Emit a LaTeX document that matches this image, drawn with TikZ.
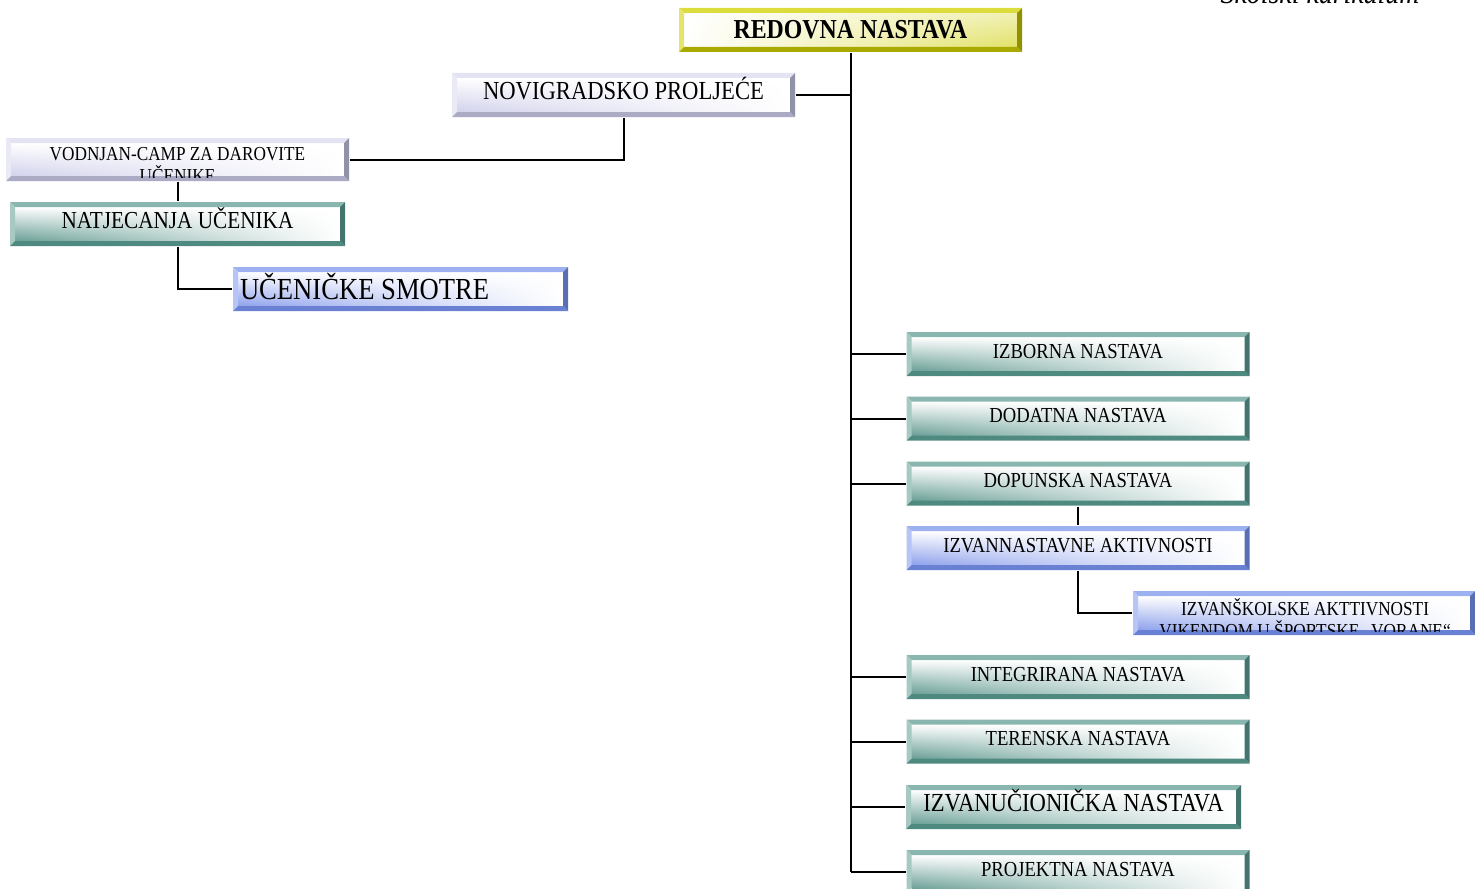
\documentclass[tikz,border=0pt]{standalone}
\usepackage{fontspec}
\setmainfont{Liberation Serif}[FakeStretch=0.87]
\usetikzlibrary{calc,shadings}

\definecolor{tealL}{HTML}{89B7B0}
\definecolor{tealD}{HTML}{4F8A81}
\definecolor{tealS}{HTML}{6A9F96}
\definecolor{lavL}{HTML}{E3E3F3}
\definecolor{lavD}{HTML}{ABABC6}
\definecolor{lavS}{HTML}{D2D2EC}
\definecolor{bluL}{HTML}{9DB1F1}
\definecolor{bluD}{HTML}{6A81D3}
\definecolor{bluS}{HTML}{8EA1EC}
\definecolor{yelL}{HTML}{DCDC3C}
\definecolor{yelD}{HTML}{A9A900}
\definecolor{yelS}{HTML}{E2E26A}

\tikzset{
	bevel/.style n args={3}{rectangle, inner sep=0pt, minimum width=171.5pt, minimum height=22pt,
		text height=7pt, text depth=3pt,
		path picture={
			\coordinate (bA) at (path picture bounding box.north west);
			\coordinate (bB) at (path picture bounding box.north east);
			\coordinate (bC) at (path picture bounding box.south east);
			\coordinate (bD) at (path picture bounding box.south west);
			\coordinate (iA) at ($(bA)+(5,5)$);
			\coordinate (iB) at ($(bB)+(-5,5)$);
			\coordinate (iC) at ($(bC)+(-5,-5)$);
			\coordinate (iD) at ($(bD)+(5,-5)$);
			\shade[#3] (iA) rectangle (iC);
			\fill[#1] (bA) -- (bB) -- (iB) -- (iA) -- cycle;
			\fill[#1!75!white] (bA) -- (iA) -- (iD) -- (bD) -- cycle;
			\fill[#2] (bD) -- (iD) -- (iC) -- (bC) -- cycle;
			\fill[#2!85!black] (bB) -- (bC) -- (iC) -- (iB) -- cycle;
		}},
	tealbox/.style={bevel={tealL}{tealD}{upper left=white,upper right=white,lower left=tealS,lower right=white}},
	lavbox/.style={bevel={lavL}{lavD}{upper left=white,upper right=white,lower left=lavS,lower right=white}},
	blubox/.style={bevel={bluL}{bluD}{upper left=white,upper right=white,lower left=bluS,lower right=white}},
	yelbox/.style={bevel={yelL}{yelD}{upper left=white,lower left=white,upper right=yelS!50!white,lower right=yelS}},
	rtxt/.style={font=\fontsize{10.7}{12}\selectfont},
	cuttxt/.style={anchor=north, inner sep=0pt, align=center, font=\fontsize{9.9}{11}\selectfont},
}

\begin{document}
\begin{tikzpicture}[x=0.5pt,y=-0.5pt,line width=1pt]
	\useasboundingbox (0,0) rectangle (1475,888);
	\node[font=\itshape\fontsize{16}{18}\selectfont, anchor=base] (kurikulum) at (1320,4) {Školski kurikulum};

	% glavni red
	\node[yelbox, text height=9pt, text depth=0pt, font=\bfseries\fontsize{13.7}{15}\selectfont] (redovna) at (850.5,30) {REDOVNA NASTAVA};
	\node[lavbox, font=\fontsize{13}{15}\selectfont] (novigradsko) at (623.5,95) {NOVIGRADSKO PROLJEĆE};
	\node[lavbox, minimum height=21.5pt] (vodnjan) at (177.5,159.5) {};
	\node[tealbox, minimum width=167.5pt, font=\fontsize{12.2}{14}\selectfont] (natjecanja) at (177.5,224) {NATJECANJA UČENIKA};
	\node[blubox, minimum width=167.5pt, text height=10pt, text depth=0pt,
		font=\fontsize{15.3}{17}\selectfont] (smotre) at (400.5,289) {\makebox[160.5pt][l]{UČENIČKE SMOTRE}};

	% desni stupac
	\node[tealbox, rtxt] (izborna) at (1078,354) {IZBORNA NASTAVA};
	\node[tealbox, rtxt] (dodatna) at (1078,418.5) {DODATNA NASTAVA};
	\node[tealbox, rtxt] (dopunska) at (1078,483.5) {DOPUNSKA NASTAVA};
	\node[blubox, rtxt] (izvannastavne) at (1078,548) {IZVANNASTAVNE AKTIVNOSTI};
	\node[blubox, minimum width=171pt] (izvanskolske) at (1304,613) {};
	\node[tealbox, rtxt] (integrirana) at (1078,677) {INTEGRIRANA NASTAVA};
	\node[tealbox, rtxt] (terenska) at (1078,741.5) {TERENSKA NASTAVA};
	\node[tealbox, minimum width=167.5pt, font=\fontsize{13}{15}\selectfont] (izvanucionicka) at (1073.5,807) {IZVANUČIONIČKA NASTAVA};
	\node[tealbox, rtxt] (projektna) at (1078,872) {PROJEKTNA NASTAVA};

	% odrezani tekst
	\begin{scope}
		\clip ($(vodnjan.north west)+(5,5)$) rectangle ($(vodnjan.south east)+(-5,-5)$);
		\node[cuttxt] (vodnjantxt) at (177.5,146.5) {VODNJAN-CAMP ZA DAROVITE\\UČENIKE};
	\end{scope}
	\begin{scope}
		\clip ($(izvanskolske.north west)+(5,5)$) rectangle ($(izvanskolske.south east)+(-5,-5)$);
		\node[cuttxt] (izvanskolsketxt) at (1305,597) {IZVANŠKOLSKE AKTTIVNOSTI\\VIKENDOM U ŠPORTSKE „VORANE“};
	\end{scope}

	% veze
	\draw (redovna.south) -- (redovna.south |- projektna.west);
	\draw (novigradsko.east) -- (redovna.south |- novigradsko.east);
	\foreach \n in {izborna,dodatna,dopunska,integrirana,terenska,izvanucionicka,projektna}
		\draw (redovna.south |- \n.west) -- (\n.west);
	\draw (novigradsko.south) |- (vodnjan.east);
	\draw (vodnjan.south) -- (natjecanja.north);
	\draw (natjecanja.south) |- (smotre.west);
	\draw (dopunska.south) -- (izvannastavne.north);
	\draw (izvannastavne.south) |- (izvanskolske.west);
\end{tikzpicture}
\end{document}
